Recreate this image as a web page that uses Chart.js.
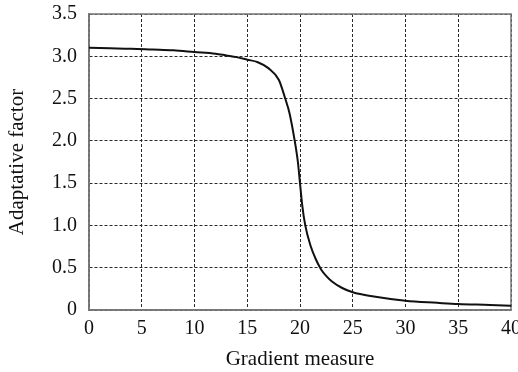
<!DOCTYPE html>
<html>
<head>
<meta charset="utf-8">
<script src="https://cdn.jsdelivr.net/npm/chart.js@4/dist/chart.umd.min.js"></script>
<style>
  html, body { margin: 0; padding: 0; background: #fff; }
  #wrap { width: 518px; height: 372px; }
</style>
</head>
<body>
<div id="wrap"><canvas id="chart" width="518" height="372"></canvas></div>
<script>
// ── Data ───────────────────────────────────────────────
const gradient = [0, 2, 4, 6, 8, 10, 12, 13, 14, 15, 16, 17, 18, 18.6, 19, 19.5, 19.8, 20, 20.2, 20.5, 21, 21.5, 22, 22.5, 23, 24, 25, 27, 30, 33, 35, 38, 40];
const factor   = [3.10, 3.095, 3.09, 3.08, 3.07, 3.05, 3.03, 3.01, 2.99, 2.96, 2.93, 2.86, 2.72, 2.5, 2.33, 2.0, 1.75, 1.5, 1.25, 1.0, 0.76, 0.6, 0.48, 0.4, 0.34, 0.26, 0.21, 0.16, 0.11, 0.085, 0.07, 0.06, 0.05];
const xTicks   = [0, 5, 10, 15, 20, 25, 30, 35, 40];
const yTicks   = [0, 0.5, 1.0, 1.5, 2.0, 2.5, 3.0, 3.5];

const FONT = "'Liberation Serif', 'Times New Roman', serif";
const GRID = { color: '#2a2a2a', lineWidth: 1, drawTicks: false };
const DASH = { color: '#777', width: 1.5, dash: [3, 2] };

new Chart(document.getElementById('chart'), {
  type: 'line',
  data: {
    datasets: [{
      data: gradient.map((x, i) => ({ x, y: factor[i] })),
      borderColor: '#111',
      borderWidth: 2,
      pointRadius: 0,
      fill: false,
      cubicInterpolationMode: 'monotone'
    }]
  },
  options: {
    responsive: false,
    animation: false,
    layout: { padding: { top: 14, right: 7, left: 0, bottom: 0 } },
    plugins: { legend: { display: false }, tooltip: { enabled: false } },
    scales: {
      x: {
        type: 'linear', min: 0, max: 40,
        afterBuildTicks: ax => { ax.ticks = xTicks.map(v => ({ value: v })); },
        afterFit: ax => { ax.height = 62; ax.paddingRight = 0; ax.paddingLeft = 0; },
        grid: GRID,
        border: DASH,
        ticks: { color: '#111', padding: 7, font: { family: FONT, size: 20 }, maxRotation: 0 },
        title: { display: true, text: 'Gradient measure', color: '#111', font: { family: FONT, size: 21 }, padding: { top: 0, bottom: 0 } }
      },
      y: {
        min: 0, max: 3.5,
        afterBuildTicks: ax => { ax.ticks = yTicks.map(v => ({ value: v })); },
        afterFit: ax => { ax.width = 89; ax.paddingTop = 0; ax.paddingBottom = 0; },
        grid: GRID,
        border: DASH,
        ticks: {
          color: '#111', padding: 12, font: { family: FONT, size: 20 },
          callback: v => v === 0 ? '0' : v.toFixed(1)
        },
        title: { display: true, text: 'Adaptative factor', color: '#111', font: { family: FONT, size: 21 }, padding: { top: 5, bottom: 0 } }
      }
    }
  },
  plugins: [{
    // solid frame over the dotted grid
    id: 'frame',
    beforeDatasetsDraw(chart) {
      const { ctx, chartArea: a } = chart;
      ctx.save();
      ctx.strokeStyle = '#777';
      ctx.lineWidth = 1.5;
      ctx.setLineDash([]);
      ctx.strokeRect(a.left, a.top, a.right - a.left, a.bottom - a.top);
      ctx.restore();
    }
  }]
});
</script>
</body>
</html>
